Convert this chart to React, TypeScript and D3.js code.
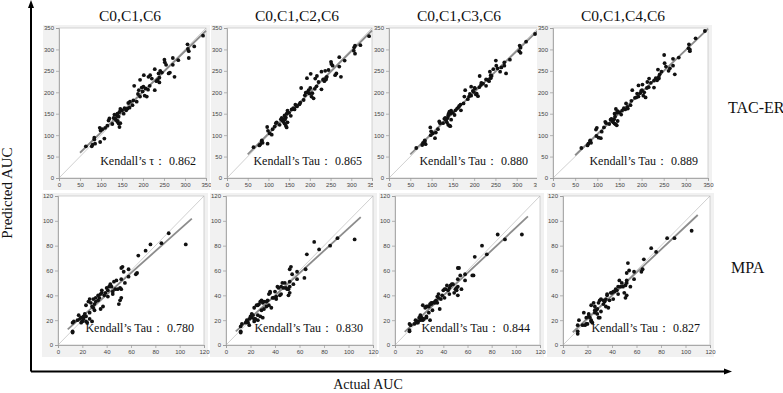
import React, { useEffect, useRef } from 'react';
import * as d3 from 'd3';

// Model feature sets (columns) and drugs (rows)
const models = ['C0,C1,C6', 'C0,C1,C2,C6', 'C0,C1,C3,C6', 'C0,C1,C4,C6'];
const drugs = ['TAC-ER', 'MPA'];

// Kendall's tau for each model, per drug
const tauTac = [0.862, 0.865, 0.88, 0.889];
const tauMpa = [0.78, 0.83, 0.844, 0.827];

const tacTicks = [0, 50, 100, 150, 200, 250, 300, 350];
const mpaTicks = [0, 20, 40, 60, 80, 100, 120];

// TAC-ER: observed AUC and predictions of the four models
const tacActual = [
  343, 322, 307, 306, 309, 309, 284, 271, 271, 275, 251, 252, 255, 261, 264, 237, 241, 239, 235, 239,
  228, 228, 217, 213, 216, 202, 193, 201, 197, 206, 204, 209, 193, 199, 179, 185, 177, 165, 169, 163,
  168, 150, 154, 146, 144, 139, 138, 142, 134, 130, 136, 139, 142, 144, 146, 120, 118, 110, 97, 99,
  103, 98, 108, 84, 84, 80, 78, 86, 64, 156, 175, 188, 221, 232, 245, 132, 140, 127, 160, 190, 212, 115,
];
const tacPredC6 = [
  332, 307, 301, 312, 280, 296, 275, 280, 264, 236, 276, 270, 264, 244, 246, 244, 250, 234, 229, 223,
  254, 205, 240, 236, 215, 240, 229, 213, 211, 209, 192, 190, 190, 202, 215, 178, 181, 175, 178, 162,
  164, 158, 150, 161, 154, 150, 146, 143, 139, 140, 135, 131, 127, 119, 128, 139, 134, 117, 117, 111,
  114, 84, 92, 94, 90, 78, 74, 80, 74, 163, 170, 196, 232, 226, 246, 148, 133, 126, 158, 205, 206, 122,
];
const tacPredC2 = [
  331, 310, 305, 297, 290, 309, 274, 282, 260, 236, 271, 266, 262, 240, 244, 250, 236, 230, 226, 233,
  248, 207, 238, 232, 214, 243, 233, 210, 205, 198, 190, 186, 200, 197, 210, 182, 176, 171, 167, 160,
  168, 152, 145, 157, 150, 146, 138, 141, 134, 137, 131, 127, 122, 118, 130, 130, 128, 114, 119, 110,
  104, 80, 101, 88, 84, 78, 76, 82, 72, 160, 172, 193, 224, 230, 252, 140, 136, 124, 163, 199, 208, 120,
];
const tacPredC3 = [
  336, 318, 309, 296, 292, 304, 276, 270, 262, 244, 274, 262, 256, 248, 258, 248, 238, 233, 226, 240,
  230, 215, 222, 238, 217, 209, 213, 210, 203, 197, 195, 191, 192, 201, 205, 184, 190, 168, 158, 165,
  171, 152, 147, 157, 150, 146, 140, 155, 135, 138, 130, 124, 122, 121, 136, 128, 132, 106, 118, 109,
  104, 100, 93, 85, 88, 82, 77, 79, 70, 158, 174, 190, 220, 229, 254, 140, 150, 128, 162, 196, 212, 114,
];
const tacPredC4 = [
  343, 326, 312, 303, 296, 300, 281, 278, 262, 242, 287, 268, 260, 250, 256, 253, 242, 232, 228, 236,
  227, 211, 232, 224, 212, 218, 216, 205, 198, 200, 192, 188, 190, 203, 205, 187, 180, 174, 162, 160,
  166, 153, 148, 156, 152, 150, 137, 161, 133, 136, 130, 127, 125, 123, 133, 128, 131, 108, 113, 117,
  94, 98, 93, 88, 85, 80, 76, 82, 70, 157, 170, 188, 222, 233, 248, 138, 143, 126, 163, 197, 210, 118,
];

// MPA: observed AUC and predictions of the four models
const mpaActual = [
  105, 91, 85, 76, 72, 66, 65, 64, 58, 58, 53, 52, 54, 52, 55, 52, 51, 49, 52, 51,
  50, 45, 45, 46, 48, 43, 42, 40, 41, 41, 38, 36, 36, 35, 34, 37, 35, 31, 29, 27,
  26, 25, 23, 30, 31, 29, 30, 26, 23, 21, 19, 17, 18, 20, 21, 23, 26, 28, 24, 13,
  12, 12, 12, 33, 39, 44, 47, 22, 19, 33, 28, 16,
];
const mpaPredC6 = [
  81, 90, 82, 81, 76, 72, 58, 57, 61, 55, 63, 62, 59, 53, 50, 45, 46, 45, 38, 36,
  33, 43, 41, 51, 52, 49, 47, 46, 44, 39, 40, 42, 44, 41, 38, 31, 29, 38, 37, 34,
  37, 35, 32, 33, 35, 30, 28, 26, 23, 23, 22, 24, 21, 19, 21, 19, 21, 19, 18, 19,
  18, 11, 10, 36, 42, 47, 45, 25, 18, 40, 31, 20,
];
const mpaPredC2 = [
  85, 86, 80, 77, 83, 73, 61, 54, 59, 53, 63, 61, 57, 51, 49, 47, 45, 46, 42, 40,
  45, 47, 41, 50, 50, 46, 47, 43, 39, 37, 38, 43, 42, 41, 36, 30, 32, 35, 36, 33,
  32, 32, 30, 34, 29, 28, 22, 24, 21, 22, 21, 20, 18, 23, 25, 19, 20, 23, 21, 17,
  15, 11, 10, 35, 38, 40, 46, 24, 16, 31, 35, 18,
];
const mpaPredC3 = [
  89, 85, 89, 73, 80, 71, 56, 56, 57, 52, 62, 62, 56, 53, 45, 47, 44, 42, 40, 46,
  45, 46, 41, 48, 49, 48, 45, 44, 45, 38, 37, 41, 38, 39, 36, 29, 34, 34, 33, 31,
  31, 30, 32, 33, 28, 20, 34, 23, 21, 24, 19, 20, 18, 22, 20, 20, 22, 26, 21, 16,
  17, 12, 11, 34, 40, 44, 49, 22, 18, 35, 31, 17,
];
const mpaPredC4 = [
  92, 86, 86, 75, 78, 69, 61, 59, 59, 53, 66, 58, 60, 50, 47, 52, 48, 47, 40, 38,
  42, 47, 41, 52, 50, 45, 43, 42, 43, 37, 36, 41, 40, 37, 35, 30, 31, 37, 34, 28,
  31, 34, 32, 36, 27, 22, 22, 26, 19, 25, 22, 26, 16, 17, 23, 20, 28, 25, 18, 20,
  16, 11, 9, 36, 42, 44, 47, 22, 17, 33, 29, 16,
];

// Plot-area placement of each panel, per row
const panelLeft = [[59, 227, 389, 553], [58, 226, 395, 563]];
const panelWidth = [[147, 145, 149, 155], [146, 147, 145, 147]];
const panelTop = [28, 196];
const panelBottom = [178, 345];
const titleX = [130, 297, 459, 623];

const App = () => {
  const width = 783;
  const height = 393;
  const svgRef = useRef<SVGSVGElement>(null);

  useEffect(() => {
    const svg = d3.select(svgRef.current);
    svg.selectAll('*').remove();

    const serif = '"Liberation Serif", "Times New Roman", serif';

    const rows = [
      { actual: tacActual, preds: [tacPredC6, tacPredC2, tacPredC3, tacPredC4], tau: tauTac, max: 350, ticks: tacTicks, fit: [50, 350] },
      { actual: mpaActual, preds: [mpaPredC6, mpaPredC2, mpaPredC3, mpaPredC4], tau: tauMpa, max: 120, ticks: mpaTicks, fit: [8, 110] },
    ];

    rows.forEach((row, r) => {
      row.preds.forEach((pred, c) => {
        const x0 = panelLeft[r][c];
        const w = panelWidth[r][c];
        const top = panelTop[r];
        const bottom = panelBottom[r];

        const x = d3.scaleLinear().domain([0, row.max]).range([x0, x0 + w]);
        const y = d3.scaleLinear().domain([0, row.max]).range([bottom, top]);

        const g = svg.append('g');

        // grey backdrop behind plot and tick labels
        g.append('rect')
          .attr('x', x0 - 16)
          .attr('y', top - 3)
          .attr('width', w + 20)
          .attr('height', bottom - top + 15)
          .attr('fill', '#f1f1f1');

        g.append('rect')
          .attr('x', x0)
          .attr('y', top)
          .attr('width', w)
          .attr('height', bottom - top)
          .attr('fill', '#fff')
          .attr('stroke', '#c9c9c9')
          .attr('stroke-width', 0.8);

        // axes
        const xAxis = g.append('g')
          .attr('transform', `translate(0,${bottom})`)
          .call(d3.axisBottom(x).tickValues(row.ticks).tickSize(3).tickPadding(2));
        const yAxis = g.append('g')
          .attr('transform', `translate(${x0},0)`)
          .call(d3.axisLeft(y).tickValues(row.ticks).tickSize(3).tickPadding(2));
        [xAxis, yAxis].forEach((ax) => {
          ax.select('.domain').attr('stroke', '#9a9a9a').attr('stroke-width', 0.8);
          ax.selectAll('.tick line').attr('stroke', '#9a9a9a').attr('stroke-width', 0.7);
          ax.selectAll('.tick text')
            .attr('fill', '#444')
            .attr('font-size', 6)
            .attr('font-family', '"Liberation Sans", Arial, sans-serif');
        });

        // identity line
        g.append('line')
          .attr('x1', x(0))
          .attr('y1', y(0))
          .attr('x2', x(row.max))
          .attr('y2', y(row.max))
          .attr('stroke', '#b0b0b0')
          .attr('stroke-width', 0.6);

        // least-squares fit of predicted on actual
        const mx = d3.mean(row.actual) as number;
        const my = d3.mean(pred) as number;
        const sxy = d3.sum(row.actual, (v, i) => (v - mx) * (pred[i] - my));
        const sxx = d3.sum(row.actual, (v) => (v - mx) * (v - mx));
        const slope = sxy / sxx;
        const icpt = my - slope * mx;
        g.append('line')
          .attr('x1', x(row.fit[0]))
          .attr('y1', y(icpt + slope * row.fit[0]))
          .attr('x2', x(row.fit[1]))
          .attr('y2', y(icpt + slope * row.fit[1]))
          .attr('stroke', '#8c8c8c')
          .attr('stroke-width', 1.8);

        // points
        g.selectAll('circle')
          .data(row.actual.map((a, i) => [a, pred[i]]))
          .enter()
          .append('circle')
          .attr('cx', (d) => x(d[0]))
          .attr('cy', (d) => y(d[1]))
          .attr('r', 1.9)
          .attr('fill', '#111');

        const label = r === 0 && c === 0 ? 'Kendall’s τ：' : 'Kendall’s Tau：';
        g.append('text')
          .attr('x', x0 + w - 10)
          .attr('y', bottom - 13)
          .attr('text-anchor', 'end')
          .attr('font-family', serif)
          .attr('font-size', 12)
          .attr('fill', '#111')
          .text(`${label}  ${d3.format('.3f')(row.tau[c])}`);
      });
    });

    // column titles
    svg.selectAll('.title')
      .data(models)
      .enter()
      .append('text')
      .attr('x', (d, i) => titleX[i])
      .attr('y', 21)
      .attr('text-anchor', 'middle')
      .attr('font-family', serif)
      .attr('font-size', 15.5)
      .attr('fill', '#111')
      .text((d) => d);

    // row labels
    svg.selectAll('.drug')
      .data(drugs)
      .enter()
      .append('text')
      .attr('x', (d, i) => (i === 0 ? 728 : 731))
      .attr('y', (d, i) => (i === 0 ? 113 : 273))
      .attr('font-family', serif)
      .attr('font-size', 16)
      .attr('fill', '#111')
      .text((d) => d);

    // outer axes with arrowheads
    const ox = 31;
    const oy = 371.5;
    svg.append('path')
      .attr('d', `M${ox},${oy} L${ox},6 M${ox},${oy} L726,${oy}`)
      .attr('stroke', '#000')
      .attr('stroke-width', 2)
      .attr('fill', 'none');
    svg.append('path')
      .attr('d', `M${ox},0 L${ox - 3},8 L${ox + 3},8 Z`)
      .attr('fill', '#000');
    svg.append('path')
      .attr('d', `M732,${oy} L724,${oy - 3} L724,${oy + 3} Z`)
      .attr('fill', '#000');

    svg.append('text')
      .attr('transform', 'translate(12,193) rotate(-90)')
      .attr('text-anchor', 'middle')
      .attr('font-family', serif)
      .attr('font-size', 15)
      .attr('fill', '#111')
      .text('Predicted AUC');

    svg.append('text')
      .attr('x', 368)
      .attr('y', 389)
      .attr('text-anchor', 'middle')
      .attr('font-family', serif)
      .attr('font-size', 14)
      .attr('fill', '#111')
      .text('Actual AUC');
  }, []);

  return (
    <svg
      ref={svgRef}
      width={width}
      height={height}
      style={{ position: 'absolute', left: 0, top: 0, background: '#fff' }}
    />
  );
};

export default App;
